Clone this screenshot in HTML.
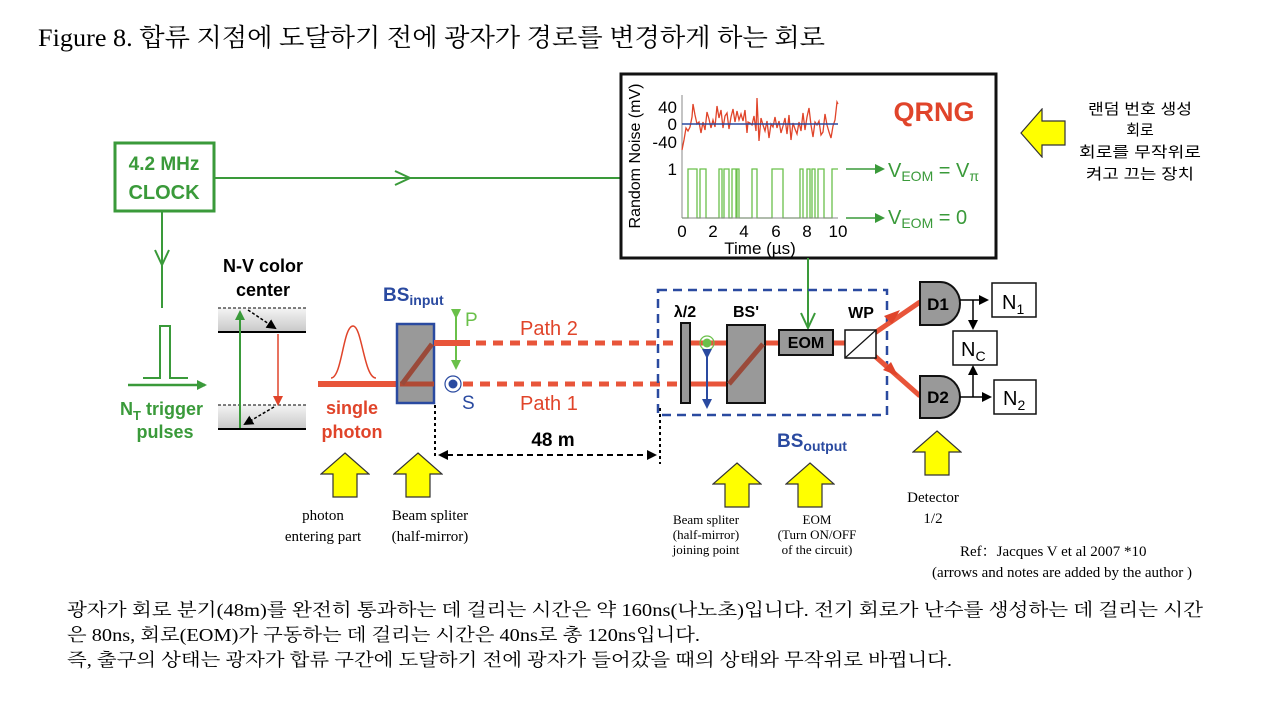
<!DOCTYPE html>
<html><head><meta charset="utf-8"><style>
body{margin:0;background:#fff;width:1280px;height:712px;overflow:hidden}
svg{display:block}
.s{font-family:"Liberation Sans","Noto Sans CJK KR",sans-serif}
.r{font-family:"Liberation Serif","Noto Serif CJK SC",serif}
</style></head><body>
<svg width="1280" height="712" viewBox="0 0 1280 712">
<defs>
<marker id="ga" markerWidth="10" markerHeight="10" refX="8" refY="5" orient="auto" markerUnits="userSpaceOnUse"><path d="M0,0 L10,5 L0,10 Z" fill="#3a9a3a"/></marker>
<marker id="ka" markerWidth="10" markerHeight="10" refX="8" refY="5" orient="auto" markerUnits="userSpaceOnUse"><path d="M0,0 L10,5 L0,10 Z" fill="#000"/></marker>
<marker id="ra" markerWidth="10" markerHeight="10" refX="8" refY="5" orient="auto" markerUnits="userSpaceOnUse"><path d="M0,0 L10,5 L0,10 Z" fill="#e0442a"/></marker>
<marker id="ba" markerWidth="10" markerHeight="10" refX="8" refY="5" orient="auto" markerUnits="userSpaceOnUse"><path d="M0,0 L10,5 L0,10 Z" fill="#2a4aa0"/></marker>
<marker id="la" markerWidth="10" markerHeight="10" refX="8" refY="5" orient="auto" markerUnits="userSpaceOnUse"><path d="M0,0 L10,5 L0,10 Z" fill="#6ac04a"/></marker>
<symbol id="ya" viewBox="0 0 50 46"><path d="M25,1 L49,22 L37,22 L37,45 L13,45 L13,22 L1,22 Z" fill="#ffff00" stroke="#333" stroke-width="1.2"/></symbol>
<linearGradient id="bg" x1="0" y1="0" x2="0" y2="1"><stop offset="0" stop-color="#f4f4f4"/><stop offset="1" stop-color="#c8c8c8"/></linearGradient>
</defs>

<text x="38" y="46" class="r" font-size="25" textLength="787" lengthAdjust="spacingAndGlyphs">Figure 8. 합류 지점에 도달하기 전에 광자가 경로를 변경하게 하는 회로</text>

<!-- clock -->
<rect x="115" y="143" width="99" height="68" fill="#fff" stroke="#3a9a3a" stroke-width="3"/>
<text x="164" y="170" text-anchor="middle" class="s" font-weight="bold" font-size="19" fill="#3a9a3a">4.2 MHz</text>
<text x="164" y="199" text-anchor="middle" class="s" font-weight="bold" font-size="20" fill="#3a9a3a">CLOCK</text>
<line x1="214" y1="178" x2="620" y2="178" stroke="#3a9a3a" stroke-width="2"/>
<path d="M395,171 L410,178 L395,185" fill="none" stroke="#3a9a3a" stroke-width="2"/>
<line x1="162" y1="211" x2="162" y2="308" stroke="#3a9a3a" stroke-width="2"/>
<path d="M155,250 L162,265 L169,250" fill="none" stroke="#3a9a3a" stroke-width="2"/>

<!-- QRNG box -->
<rect x="621" y="74" width="375" height="184" fill="#fff" stroke="#111" stroke-width="3"/>
<text transform="translate(640,156) rotate(-90)" text-anchor="middle" class="s" font-size="16">Random Noise (mV)</text>
<line x1="682" y1="95" x2="682" y2="218" stroke="#888" stroke-width="1"/>
<text x="677" y="113" text-anchor="end" class="s" font-size="17">40</text>
<text x="677" y="130" text-anchor="end" class="s" font-size="17">0</text>
<text x="677" y="148" text-anchor="end" class="s" font-size="17">-40</text>
<text x="677" y="175" text-anchor="end" class="s" font-size="17">1</text>
<polyline fill="none" stroke="#e0442a" stroke-width="1.3" points="682,150 684,140 686,128 688,131 690,127 692,117 693,104 695,115 697,124 699,122 701,133 703,122 705,130 707,112 709,119 711,128 713,120 715,127 717,106 719,118 721,110 723,128 725,116 727,113 729,129 731,117 733,109 735,122 737,111 739,120 741,114 743,121 745,110 747,133 748,122 750,123 752,125 754,116 756,131 757,98 759,141 761,118 763,125 765,131 767,121 769,138 771,124 773,127 775,117 777,128 779,121 781,133 783,126 785,118 787,134 789,115 791,140 793,123 795,129 797,134 799,122 801,131 803,113 805,130 807,117 809,108 811,125 813,137 815,122 817,125 819,121 821,135 823,132 825,114 827,125 829,132 831,138 833,126 835,120 837,102 838,104"/>
<line x1="682" y1="124" x2="838" y2="124" stroke="#2a4aa0" stroke-width="1.5"/>
<path fill="none" stroke="#6ac04a" stroke-width="1.3" d="M682,218 H688 V169 H697 V218 H700 V169 H706 V218 H719 V169 H722 V218 H724 V169 H729 V218 H732 V169 H736 V218 H737 V169 H739 V218 H752 V169 H757 V218 H772 V169 H783 V218 H800 V169 H803 V218 H807 V169 H810 V218 H812 V169 H815 V218 H818 V169 H824 V218 H832 V169 H838"/>
<line x1="682" y1="218" x2="838" y2="218" stroke="#888" stroke-width="1"/>
<g class="s" font-size="17" text-anchor="middle">
<text x="682" y="237">0</text><text x="713" y="237">2</text><text x="744" y="237">4</text><text x="776" y="237">6</text><text x="807" y="237">8</text><text x="838" y="237">10</text>
<text x="760" y="254">Time (µs)</text></g>
<text x="934" y="121" text-anchor="middle" class="s" font-weight="bold" font-size="27" fill="#e0442a">QRNG</text>
<line x1="846" y1="169" x2="883" y2="169" stroke="#3a9a3a" stroke-width="1.5" marker-end="url(#ga)"/>
<line x1="846" y1="218" x2="883" y2="218" stroke="#3a9a3a" stroke-width="1.5" marker-end="url(#ga)"/>
<text x="888" y="177" class="s" font-size="20" fill="#3a9a3a">V<tspan font-size="14" dy="4">EOM</tspan><tspan dy="-4"> = V</tspan><tspan font-size="14" dy="4">π</tspan></text>
<text x="888" y="224" class="s" font-size="20" fill="#3a9a3a">V<tspan font-size="14" dy="4">EOM</tspan><tspan dy="-4"> = 0</tspan></text>
<line x1="808" y1="258" x2="808" y2="328" stroke="#3a9a3a" stroke-width="2"/>
<path d="M801,313 L808,328 L815,313" fill="none" stroke="#3a9a3a" stroke-width="2"/>

<!-- right note -->
<use href="#ya" x="0" y="0" width="50" height="46" transform="translate(1020,158) rotate(-90)"/>
<g class="s" font-size="15" text-anchor="middle">
<text x="1140" y="114" textLength="104" lengthAdjust="spacingAndGlyphs">랜덤 번호 생성</text><text x="1140" y="135">회로</text><text x="1140" y="157" textLength="122" lengthAdjust="spacingAndGlyphs">회로를 무작위로</text><text x="1140" y="179" textLength="108" lengthAdjust="spacingAndGlyphs">켜고 끄는 장치</text></g>

<!-- NV center -->
<text x="263" y="272" text-anchor="middle" class="s" font-weight="bold" font-size="18">N-V color</text>
<text x="263" y="296" text-anchor="middle" class="s" font-weight="bold" font-size="18">center</text>
<rect x="218" y="308" width="88" height="24" fill="url(#bg)"/>
<line x1="218" y1="308" x2="306" y2="308" stroke="#000" stroke-dasharray="3,2"/>
<line x1="218" y1="332" x2="306" y2="332" stroke="#000" stroke-width="2"/>
<rect x="218" y="405" width="88" height="24" fill="url(#bg)"/>
<line x1="218" y1="405" x2="306" y2="405" stroke="#000" stroke-dasharray="3,2"/>
<line x1="218" y1="429" x2="306" y2="429" stroke="#000" stroke-width="2"/>
<line x1="240" y1="428" x2="240" y2="312" stroke="#3a9a3a" stroke-width="2" marker-end="url(#ga)"/>
<line x1="248" y1="310" x2="275" y2="328" stroke="#000" stroke-width="1.5" stroke-dasharray="3,2" marker-end="url(#ka)"/>
<line x1="278" y1="334" x2="278" y2="404" stroke="#e0442a" stroke-width="1.5" marker-end="url(#ra)"/>
<line x1="274" y1="407" x2="245" y2="424" stroke="#000" stroke-width="1.5" stroke-dasharray="3,2" marker-end="url(#ka)"/>

<!-- pulse -->
<path d="M143,378 H160 V326 H170 V378 H188" fill="none" stroke="#3a9a3a" stroke-width="2"/>
<line x1="128" y1="385" x2="205" y2="385" stroke="#3a9a3a" stroke-width="2.5" marker-end="url(#ga)"/>
<text x="120" y="415" class="s" font-weight="bold" font-size="18" fill="#3a9a3a">N<tspan font-size="13" dy="5">T</tspan><tspan dy="-5"> trigger</tspan></text>
<text x="165" y="438" text-anchor="middle" class="s" font-weight="bold" font-size="18" fill="#3a9a3a">pulses</text>

<!-- photon -->
<path d="M331,378 C342,378 343,326 353,326 C362,326 364,378 376,378" fill="none" stroke="#e0442a" stroke-width="1.5"/>
<line x1="318" y1="384" x2="400" y2="384" stroke="#e8553a" stroke-width="6"/>
<text x="352" y="414" text-anchor="middle" class="s" font-weight="bold" font-size="18" fill="#e0442a">single</text>
<text x="352" y="438" text-anchor="middle" class="s" font-weight="bold" font-size="18" fill="#e0442a">photon</text>

<!-- BS input -->
<text x="383" y="301" class="s" font-weight="bold" font-size="19" fill="#2a4aa0">BS<tspan font-size="14" dy="4">input</tspan></text>
<rect x="397" y="324" width="37" height="79" fill="#999" stroke="#2a4aa0" stroke-width="2.5"/>
<line x1="400" y1="384" x2="434" y2="384" stroke="#b04a35" stroke-width="5"/>
<line x1="402" y1="384" x2="432" y2="344" stroke="#9a4a3a" stroke-width="5"/>
<line x1="456" y1="317" x2="456" y2="368" stroke="#6ac04a" stroke-width="2" marker-end="url(#la)" marker-start="url(#la)"/>
<text x="465" y="326" class="s" font-size="19" fill="#6ac04a">P</text>
<circle cx="453" cy="384" r="8" fill="#fff" stroke="#2a4aa0" stroke-width="1.2"/>
<circle cx="453" cy="384" r="4.5" fill="#2a4aa0"/>
<text x="462" y="409" class="s" font-size="19" fill="#2a4aa0">S</text>

<!-- paths -->
<line x1="434" y1="343" x2="470" y2="343" stroke="#e8553a" stroke-width="6"/>
<line x1="476" y1="343" x2="680" y2="343" stroke="#e8553a" stroke-width="5" stroke-dasharray="10,7"/>
<line x1="463" y1="384" x2="680" y2="384" stroke="#e8553a" stroke-width="5" stroke-dasharray="10,7"/>
<text x="520" y="335" class="s" font-size="20" fill="#e0442a">Path 2</text>
<text x="520" y="410" class="s" font-size="20" fill="#e0442a">Path 1</text>
<line x1="435" y1="405" x2="435" y2="458" stroke="#000" stroke-width="2" stroke-dasharray="3,3"/>
<line x1="660" y1="408" x2="660" y2="464" stroke="#000" stroke-width="2" stroke-dasharray="3,3"/>
<line x1="447" y1="455" x2="648" y2="455" stroke="#000" stroke-width="2" stroke-dasharray="6,4"/>
<path d="M448,450 L438,455 L448,460 Z M647,450 L657,455 L647,460 Z" fill="#000"/>
<text x="553" y="446" text-anchor="middle" class="s" font-weight="bold" font-size="19">48 m</text>

<!-- output -->
<rect x="658" y="290" width="229" height="125" fill="none" stroke="#2a4aa0" stroke-width="2.5" stroke-dasharray="9,6"/>
<line x1="680" y1="343" x2="780" y2="343" stroke="#e8553a" stroke-width="5"/>
<line x1="680" y1="384" x2="730" y2="384" stroke="#e8553a" stroke-width="5"/>
<line x1="833" y1="343" x2="860" y2="343" stroke="#e8553a" stroke-width="5"/>
<line x1="860" y1="343" x2="920" y2="302" stroke="#e8553a" stroke-width="5"/>
<line x1="860" y1="343" x2="920" y2="396" stroke="#e8553a" stroke-width="5"/>
<path d="M884,316 L900,310 L892,324 Z M883,370 L898,376 L891,362 Z" fill="#e0442a"/>
<rect x="681" y="323" width="9" height="80" fill="#999" stroke="#111" stroke-width="2"/>
<text x="685" y="317" text-anchor="middle" class="s" font-weight="bold" font-size="16">λ/2</text>
<circle cx="707" cy="343" r="7" fill="none" stroke="#6ac04a" stroke-width="1.2"/>
<circle cx="707" cy="343" r="4.5" fill="#6ac04a"/>
<line x1="707" y1="357" x2="707" y2="407" stroke="#2a4aa0" stroke-width="2" marker-start="url(#ba)" marker-end="url(#ba)"/>
<rect x="727" y="325" width="38" height="78" fill="#999" stroke="#111" stroke-width="2"/>
<line x1="729" y1="384" x2="763" y2="344" stroke="#9a4a3a" stroke-width="5"/>
<text x="746" y="317" text-anchor="middle" class="s" font-weight="bold" font-size="16">BS'</text>
<rect x="779" y="330" width="54" height="25" fill="#999" stroke="#111" stroke-width="2"/>
<text x="806" y="348" text-anchor="middle" class="s" font-weight="bold" font-size="16">EOM</text>
<rect x="845" y="330" width="31" height="28" fill="#fff" stroke="#111" stroke-width="1.5"/>
<line x1="845" y1="358" x2="876" y2="330" stroke="#111" stroke-width="1.2"/>
<text x="861" y="318" text-anchor="middle" class="s" font-weight="bold" font-size="16">WP</text>
<text x="777" y="447" class="s" font-weight="bold" font-size="19" fill="#2a4aa0">BS<tspan font-size="14" dy="4">output</tspan></text>

<!-- detectors -->
<path d="M920,282 H940 A20,21.5 0 0 1 940,325 H920 Z" fill="#999" stroke="#111" stroke-width="2"/>
<path d="M920,376 H940 A20,21 0 0 1 940,418 H920 Z" fill="#999" stroke="#111" stroke-width="2"/>
<text x="938" y="310" text-anchor="middle" class="s" font-weight="bold" font-size="17">D1</text>
<text x="938" y="403" text-anchor="middle" class="s" font-weight="bold" font-size="17">D2</text>
<line x1="960" y1="300" x2="987" y2="300" stroke="#000" stroke-width="1.5" marker-end="url(#ka)"/>
<line x1="973" y1="300" x2="973" y2="328" stroke="#000" stroke-width="1.5" marker-end="url(#ka)"/>
<line x1="960" y1="397" x2="990" y2="397" stroke="#000" stroke-width="1.5" marker-end="url(#ka)"/>
<line x1="973" y1="397" x2="973" y2="367" stroke="#000" stroke-width="1.5" marker-end="url(#ka)"/>
<rect x="992" y="283" width="44" height="34" fill="#fff" stroke="#111" stroke-width="1.5"/>
<rect x="953" y="331" width="44" height="34" fill="#fff" stroke="#111" stroke-width="1.5"/>
<rect x="994" y="380" width="42" height="34" fill="#fff" stroke="#111" stroke-width="1.5"/>
<text x="1002" y="309" class="s" font-size="20">N<tspan font-size="14" dy="5">1</tspan></text>
<text x="961" y="356" class="s" font-size="20">N<tspan font-size="14" dy="5">C</tspan></text>
<text x="1003" y="405" class="s" font-size="20">N<tspan font-size="14" dy="5">2</tspan></text>

<!-- yellow arrows -->
<use href="#ya" x="320" y="452" width="50" height="46"/>
<use href="#ya" x="393" y="452" width="50" height="46"/>
<use href="#ya" x="712" y="462" width="50" height="46"/>
<use href="#ya" x="785" y="462" width="50" height="46"/>
<use href="#ya" x="912" y="430" width="50" height="46"/>

<g class="r" text-anchor="middle" font-size="15">
<text x="323" y="520">photon</text><text x="323" y="541">entering part</text>
<text x="430" y="520">Beam spliter</text><text x="430" y="541">(half-mirror)</text>
<text x="933" y="502">Detector</text><text x="933" y="523">1/2</text>
</g>
<g class="r" text-anchor="middle" font-size="13">
<text x="706" y="524">Beam spliter</text><text x="706" y="539">(half-mirror)</text><text x="706" y="554">joining point</text>
<text x="817" y="524">EOM</text><text x="817" y="539">(Turn ON/OFF</text><text x="817" y="554">of  the circuit)</text>
</g>
<text x="960" y="556" class="r" font-size="15">Ref：Jacques V et al 2007 *10</text>
<text x="1062" y="577" text-anchor="middle" class="r" font-size="15">(arrows and notes are added by the author )</text>

<g class="r" font-size="18">
<text x="67" y="616" textLength="1136" lengthAdjust="spacingAndGlyphs">광자가 회로 분기(48m)를 완전히 통과하는 데 걸리는 시간은 약 160ns(나노초)입니다. 전기 회로가 난수를 생성하는 데 걸리는 시간</text>
<text x="67" y="641" textLength="633" lengthAdjust="spacingAndGlyphs">은 80ns, 회로(EOM)가 구동하는 데 걸리는 시간은 40ns로 총 120ns입니다.</text>
<text x="67" y="666" textLength="885" lengthAdjust="spacingAndGlyphs">즉, 출구의 상태는 광자가 합류 구간에 도달하기 전에 광자가 들어갔을 때의 상태와 무작위로 바뀝니다.</text>
</g>
</svg>
</body></html>
